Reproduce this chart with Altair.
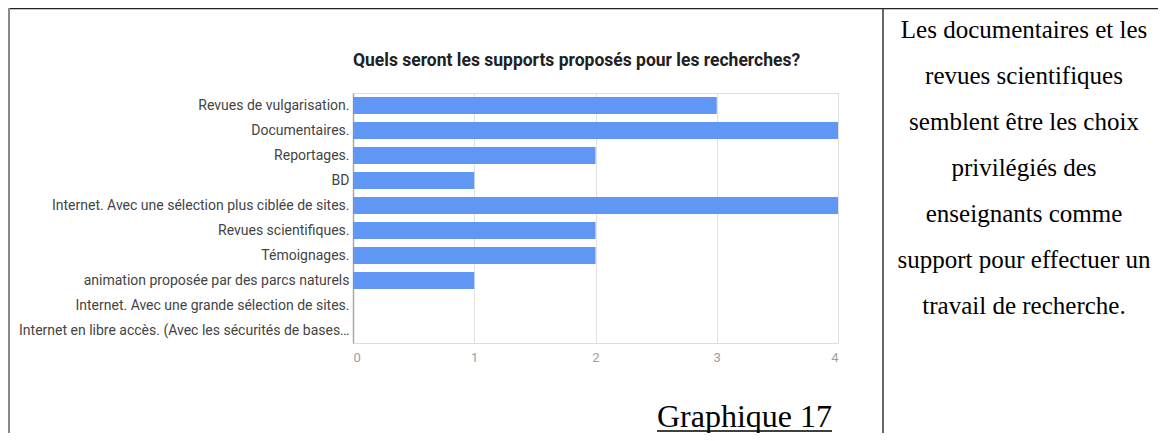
import altair as alt
import pandas as pd

# ---- data ----
categories = [
    "Revues de vulgarisation.",
    "Documentaires.",
    "Reportages.",
    "BD",
    "Internet. Avec une sélection plus ciblée de sites.",
    "Revues scientifiques.",
    "Témoignages.",
    "animation proposée par des parcs naturels",
    "Internet. Avec une grande sélection de sites.",
    "Internet en libre accès. (Avec les sécurités de bases…",
]
counts = [3, 4, 2, 1, 4, 2, 2, 1, 0, 0]
x_ticks = [0, 1, 2, 3, 4]

chart_title = "Quels seront les supports proposés pour les recherches?"
caption = "Graphique 17"
side_lines = [
    "Les documentaires et les",
    "revues scientifiques",
    "semblent être les choix",
    "privilégiés des",
    "enseignants comme",
    "support pour effectuer un",
    "travail de recherche.",
]

df = pd.DataFrame({"support": categories, "n": counts})
one = pd.DataFrame({"k": [0]})

bars = alt.Chart(df).mark_bar(color="#6097f5").encode(
    y=alt.Y(
        "support:N",
        sort=None,
        scale=alt.Scale(paddingInner=0.32, paddingOuter=0.16),
        axis=alt.Axis(
            title=None, ticks=False, labelFont="Roboto", labelFontSize=14,
            labelColor="#444444", labelPadding=4, labelLimit=500,
            domain=True, domainColor="#a8a8a8", domainWidth=1.5, grid=False,
        ),
    ),
    x=alt.X(
        "n:Q",
        scale=alt.Scale(domain=[0, 4], nice=False),
        axis=alt.Axis(
            title=None, values=x_ticks, format="d", ticks=False, domain=False,
            grid=True, gridColor="#e0e0e0", labelFont="Roboto", labelFontSize=13,
            labelColor="#9e9e9e", labelPadding=8,
        ),
    ),
)

# chart title drawn as a text mark (plot origin is at page (353, 93))
title_text = alt.Chart(one).mark_text(
    font="Roboto", fontSize=17.5, fontWeight="bold", align="left",
    baseline="middle", color="#212121",
).encode(x=alt.value(0), y=alt.value(-32), text=alt.value(chart_title))

# frame of the document table
top_border = alt.Chart(one).mark_rule(color="#222222", strokeWidth=1.5).encode(
    x=alt.value(-345), x2=alt.value(805), y=alt.value(-84.5)
)
left_border = alt.Chart(one).mark_rule(color="#8a8a8a", strokeWidth=2).encode(
    x=alt.value(-344), y=alt.value(-85), y2=alt.value(340)
)
divider = alt.Chart(one).mark_rule(color="#333333", strokeWidth=1.5).encode(
    x=alt.value(530), y=alt.value(-85), y2=alt.value(340)
)

cap_text = alt.Chart(one).mark_text(
    font="Liberation Serif", fontSize=32, align="left", baseline="alphabetic",
    color="#000000",
).encode(x=alt.value(304), y=alt.value(334), text=alt.value(caption))
cap_line = alt.Chart(one).mark_rule(color="#000000", strokeWidth=1.6).encode(
    x=alt.value(304), x2=alt.value(479), y=alt.value(338)
)

side_text = alt.Chart(one).mark_text(
    font="Liberation Serif", fontSize=25, align="center", baseline="middle",
    lineBreak="\n", lineHeight=46, color="#000000",
).encode(x=alt.value(671), y=alt.value(-63), text=alt.value("\n".join(side_lines)))

chart = alt.layer(
    bars, title_text, top_border, left_border, divider, cap_text, cap_line, side_text
).properties(
    width=485,
    height=250,
    autosize=alt.AutoSizeParams(type="none"),
    padding={"left": 345, "top": 85, "right": 320, "bottom": 90},
).configure_view(strokeWidth=0).configure(background="#ffffff")

chart.save("out.html", embed_options={"renderer": "svg", "actions": False})
